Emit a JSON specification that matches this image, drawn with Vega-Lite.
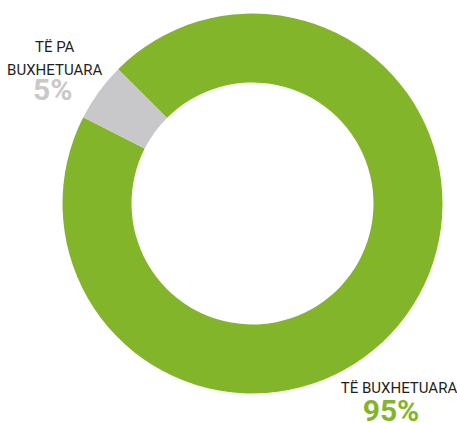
{
  "$schema": "https://vega.github.io/schema/vega-lite/v6.json",
  "width": 409,
  "height": 407,
  "autosize": {"type": "none"},
  "padding": {"left": 48, "right": 0, "top": 0, "bottom": 16},
  "background": "white",
  "config": {"view": {"stroke": null}},
  "data": {
    "values": [
      {"category": "TË BUXHETUARA", "label": "TË BUXHETUARA", "value": 95, "pct": "95%"},
      {"category": "TË PA BUXHETUARA", "label": "TË PA\nBUXHETUARA", "value": 5, "pct": "5%"}
    ]
  },
  "encoding": {
    "theta": {"field": "value", "type": "quantitative", "stack": true, "scale": {"range": [-0.7854, 5.4978]}},
    "order": {"field": "category", "sort": "ascending"}
  },
  "layer": [
    {
      "mark": {"type": "arc", "outerRadius": 190, "innerRadius": 121},
      "encoding": {
        "color": {"field": "category", "type": "nominal", "legend": null,
          "scale": {"domain": ["TË BUXHETUARA", "TË PA BUXHETUARA"], "range": ["#82b52a", "#c8c8ca"]}}
      }
    },
    {
      "mark": {"type": "text", "radius": 247, "align": "center", "baseline": "middle", "lineBreak": "\n", "lineHeight": 22.5,
        "font": "Roboto", "fontSize": 15, "color": "#231f20", "dy": -11, "dx": 2},
      "encoding": {
        "text": {"condition": {"test": "datum.category === 'TË PA BUXHETUARA'", "field": "label"}, "value": ""}
      }
    },
    {
      "mark": {"type": "text", "radius": 247, "align": "center", "baseline": "middle",
        "font": "Roboto", "fontSize": 30, "fontWeight": "bold", "color": "#c9c9c9", "dy": 33, "dx": 0},
      "encoding": {
        "text": {"condition": {"test": "datum.category === 'TË PA BUXHETUARA'", "field": "pct"}, "value": ""}
      }
    },
    {
      "mark": {"type": "text", "radius": 220, "align": "center", "baseline": "middle",
        "font": "Roboto", "fontSize": 15, "color": "#231f20", "dx": -31.5, "dy": 55},
      "encoding": {
        "text": {"condition": {"test": "datum.category === 'TË BUXHETUARA'", "field": "label"}, "value": ""}
      }
    },
    {
      "mark": {"type": "text", "radius": 220, "align": "center", "baseline": "middle",
        "font": "Roboto", "fontSize": 30, "fontWeight": "bold", "color": "#82b52a", "dx": -39.5, "dy": 79},
      "encoding": {
        "text": {"condition": {"test": "datum.category === 'TË BUXHETUARA'", "field": "pct"}, "value": ""}
      }
    }
  ]
}
